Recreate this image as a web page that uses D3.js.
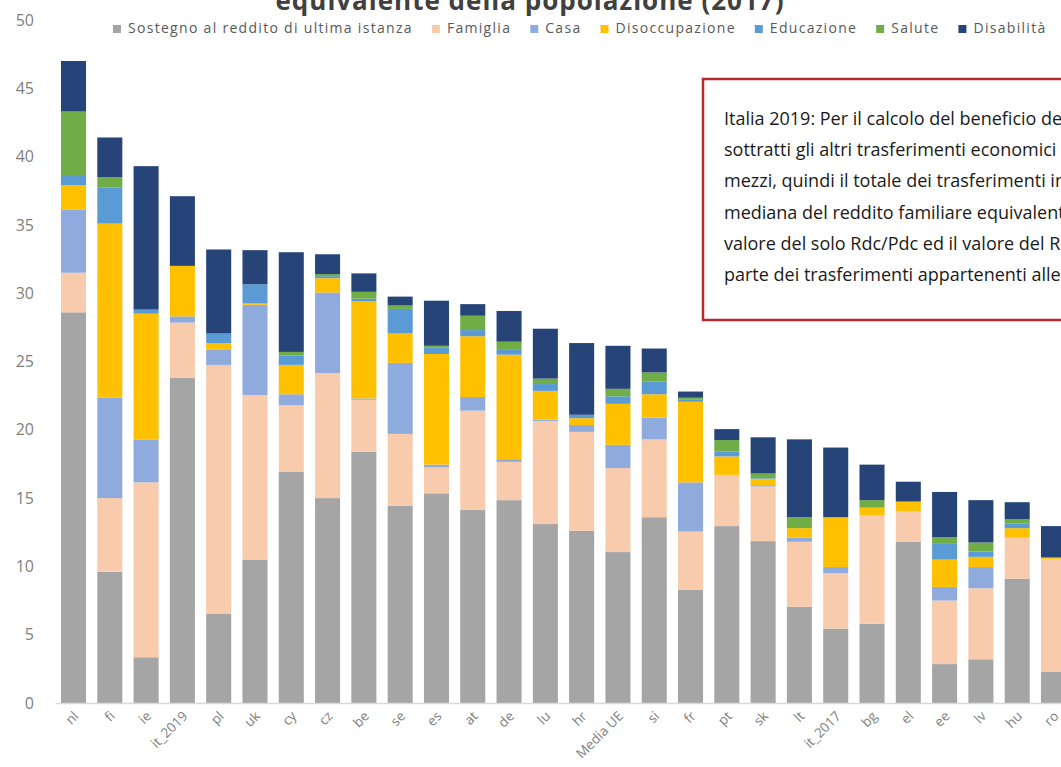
<!DOCTYPE html>
<meta charset="utf-8">
<style>
body { margin: 0; background: #fff; }
svg { display: block; }
</style>
<body>
<svg width="1061" height="767"></svg>
<script src="https://d3js.org/d3.v7.min.js"></script>
<script>
// categorie (paesi) e componenti
var categories = ["nl","fi","ie","it_2019","pl","uk","cy","cz","be","se","es","at","de","lu","hr","Media UE","si","fr","pt","sk","lt","it_2017","bg","el","ee","lv","hu","ro"];

var sostegno     = [28.6, 9.6, 3.35, 23.8, 6.55, 10.5, 16.95, 15.0, 18.4, 14.45, 15.35, 14.15, 14.85, 13.1, 12.6, 11.05, 13.6, 8.3, 12.95, 11.85, 7.05, 5.45, 5.8, 11.8, 2.85, 3.2, 9.1, 2.3];
var famiglia     = [2.9, 5.4, 12.8, 4.05, 18.2, 12.05, 4.85, 9.15, 3.8, 5.25, 1.9, 7.25, 2.8, 7.55, 7.25, 6.15, 5.7, 4.25, 3.75, 4.0, 4.75, 4.05, 7.95, 2.25, 4.65, 5.2, 3.0, 8.25];
var casa         = [4.6, 7.35, 3.15, 0.45, 1.1, 6.6, 0.8, 5.9, 0.1, 5.2, 0.2, 1.0, 0.2, 0.1, 0.5, 1.7, 1.6, 3.6, 0, 0.1, 0.3, 0.45, 0, 0, 1.0, 1.55, 0, 0];
var disoccupazione = [1.8, 12.75, 9.2, 3.7, 0.5, 0.1, 2.15, 1.05, 7.1, 2.15, 8.1, 4.45, 7.65, 2.1, 0.5, 3.0, 1.7, 5.9, 1.35, 0.45, 0.7, 3.65, 0.55, 0.7, 2.0, 0.75, 0.7, 0.1];
var educazione   = [0.75, 2.65, 0.3, 0, 0.7, 1.4, 0.7, 0.15, 0.2, 1.8, 0.45, 0.45, 0.35, 0.5, 0.25, 0.55, 0.95, 0.15, 0.35, 0.05, 0, 0, 0, 0, 1.15, 0.4, 0.35, 0];
var salute       = [4.65, 0.75, 0, 0, 0, 0, 0.25, 0.15, 0.5, 0.25, 0.15, 1.05, 0.6, 0.4, 0, 0.55, 0.65, 0.15, 0.85, 0.35, 0.8, 0, 0.55, 0, 0.5, 0.65, 0.3, 0];
var disabilita   = [3.7, 2.9, 10.5, 5.1, 6.15, 2.5, 7.3, 1.45, 1.35, 0.65, 3.3, 0.85, 2.25, 3.65, 5.25, 3.15, 1.75, 0.45, 0.8, 2.65, 5.7, 5.1, 2.6, 1.45, 3.3, 3.1, 1.25, 2.3];

var seriesNames = ["Sostegno al reddito di ultima istanza","Famiglia","Casa","Disoccupazione","Educazione","Salute","Disabilità"];
var seriesValues = [sostegno, famiglia, casa, disoccupazione, educazione, salute, disabilita];
var colors = ["#a5a5a5","#f8cbad","#8faadc","#ffc000","#5b9bd5","#70ad47","#264478"];

var yTicks = [0, 5, 10, 15, 20, 25, 30, 35, 40, 45, 50];

var title = "equivalente della popolazione (2017)";
var noteLines = [
  "Italia 2019: Per il calcolo del beneficio dei Rdc/Pdc vengono",
  "sottratti gli altri trasferimenti economici legati alla prova dei",
  "mezzi, quindi il totale dei trasferimenti in percentuale della",
  "mediana del reddito familiare equivalente è la somma tra il",
  "valore del solo Rdc/Pdc ed il valore del Rei e di una",
  "parte dei trasferimenti appartenenti alle altre funzioni"
];

var svg = d3.select("svg");

// tabella per lo stack
var table = categories.map(function(c, i) {
  var row = {cat: c};
  seriesNames.forEach(function(s, j) { row[s] = seriesValues[j][i]; });
  return row;
});
var stacked = d3.stack().keys(seriesNames)(table);

var x = d3.scaleBand()
    .domain(categories)
    .range([55, 1072])
    .paddingInner(0.31)
    .paddingOuter(0.165);

var y = d3.scaleLinear()
    .domain([0, 50])
    .range([703, 20]);

var color = d3.scaleOrdinal().domain(seriesNames).range(colors);

// barre
svg.append("g")
  .selectAll("g")
  .data(stacked)
  .join("g")
    .attr("fill", function(d) { return color(d.key); })
  .selectAll("rect")
  .data(function(d) { return d; })
  .join("rect")
    .attr("x", function(d) { return x(d.data.cat); })
    .attr("y", function(d) { return y(d[1]); })
    .attr("width", x.bandwidth())
    .attr("height", function(d) { return y(d[0]) - y(d[1]); });

// asse y
var yAxis = svg.append("g")
    .attr("transform", "translate(55,0)")
    .call(d3.axisLeft(y).tickValues(yTicks).tickSize(0).tickPadding(21));
yAxis.select(".domain").remove();
yAxis.selectAll("text")
    .attr("fill", "#7f7f7f")
    .style("font-family", "'Open Sans', sans-serif")
    .style("font-size", "16px");

// asse x
var xAxis = svg.append("g")
    .attr("transform", "translate(0,703)")
    .call(d3.axisBottom(x).tickSize(0).tickPadding(0));
xAxis.select(".domain").attr("stroke", "#d9d9d9").attr("stroke-width", 1.5);
xAxis.selectAll("text")
    .attr("fill", "#7f7f7f")
    .style("font-family", "'Open Sans', sans-serif")
    .style("font-size", "13.5px")
    .attr("text-anchor", "end")
    .attr("dy", null)
    .attr("y", 0)
    .attr("transform", "translate(6,14) rotate(-45)");

// titolo (tagliato in alto)
svg.append("text")
    .attr("x", 530)
    .attr("y", 10)
    .attr("text-anchor", "middle")
    .attr("fill", "#404040")
    .style("font-family", "'Open Sans', sans-serif")
    .style("font-weight", "bold")
    .style("font-size", "26px")
    .style("letter-spacing", "1px")
    .text(title);

// legenda
var legend = svg.append("g").attr("transform", "translate(113,32)");
var lx = 0;
seriesNames.forEach(function(s) {
  var item = legend.append("g").attr("transform", "translate(" + lx + ",0)");
  item.append("rect")
      .attr("x", 0).attr("y", -7)
      .attr("width", 8).attr("height", 8)
      .attr("fill", color(s));
  var t = item.append("text")
      .attr("x", 15).attr("y", 1)
      .attr("fill", "#595959")
      .style("font-family", "'Open Sans', sans-serif")
      .style("font-size", "14px")
      .style("letter-spacing", "1.3px")
      .text(s);
  lx += 15 + t.node().getComputedTextLength() + 19;
});

// riquadro di nota
var note = svg.append("g");
note.append("rect")
    .attr("x", 703).attr("y", 79)
    .attr("width", 420).attr("height", 241)
    .attr("fill", "#fff")
    .attr("stroke", "#b8272c")
    .attr("stroke-width", 2.5);
note.selectAll("text")
  .data(noteLines)
  .join("text")
    .attr("x", 724)
    .attr("y", function(d, i) { return 125 + i * 31.2; })
    .attr("fill", "#1a1a1a")
    .style("font-family", "'Liberation Sans Narrow', 'Open Sans', sans-serif")
    .style("font-size", "18px")
    .text(function(d) { return d; });
</script>
</body>
